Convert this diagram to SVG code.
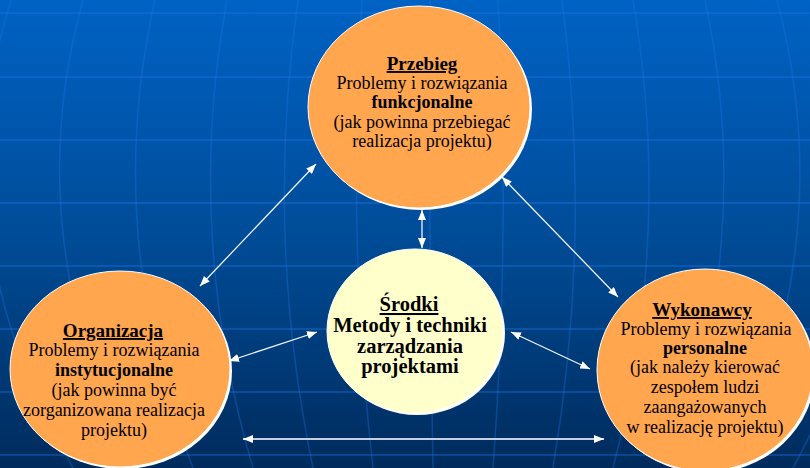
<svg xmlns="http://www.w3.org/2000/svg" width="810" height="468" viewBox="0 0 810 468">
  <defs>
    <linearGradient id="bg" x1="0" y1="0" x2="0" y2="1">
      <stop offset="0" stop-color="#0062c4"/>
      <stop offset="0.5" stop-color="#004c98"/>
      <stop offset="1" stop-color="#002b5c"/>
    </linearGradient>
    <marker id="ah" viewBox="0 0 10 8" refX="10" refY="4" markerWidth="10" markerHeight="8" markerUnits="userSpaceOnUse" orient="auto-start-reverse">
      <path d="M0,0 L10,4 L0,8 z" fill="#ffffff"/>
    </marker>
    <style>
      .hline { stroke: #1f7af0; stroke-opacity: 0.45; stroke-width: 1.6; fill: none; }
      .vline { stroke: #1f7af0; stroke-opacity: 0.3; stroke-width: 1.6; fill: none; }
      .rim { fill: #ffffff; }
      .orange { fill: #ffa64f; stroke: #ffffff; stroke-width: 1; }
      .cream { fill: #ffffcc; stroke: #ffffff; stroke-width: 1; }
      .t { font-family: "Liberation Serif", "Times New Roman", serif; fill: #000000; text-anchor: middle; }
      .body { font-size: 18px; }
      .bold { font-weight: bold; }
      .title { font-size: 19px; font-weight: bold; text-decoration: underline; }
      .mid { font-size: 20.5px; font-weight: bold; }
      .arrow { stroke: #eef2fa; stroke-width: 1.3; fill: none; marker-start: url(#ah); marker-end: url(#ah); }
      .arrow-wide { stroke: #c4d0e2; stroke-width: 2; fill: none; marker-start: url(#ah); marker-end: url(#ah); }
    </style>
  </defs>

  <!-- background with curved grid -->
  <rect x="0" y="0" width="810" height="468" fill="url(#bg)"/>
  <g id="grid">
    <path class="hline" d="M0 13 H810 M0 77 H810 M0 140 H810 M0 203 H810 M0 266 H810 M0 329 H810 M0 392 H810 M0 455 H810"/>
    <path class="vline" d="M430 0 Q428.5 234 433 468"/>
    <path class="vline" d="M362 0 Q346.5 234 373 468"/>
    <path class="vline" d="M498 0 Q510.5 234 493 468"/>
    <path class="vline" d="M298 0 Q264.5 234 313 468"/>
    <path class="vline" d="M562 0 Q592.5 234 553 468"/>
    <path class="vline" d="M227 0 Q184 234 253 468"/>
    <path class="vline" d="M633 0 Q673 234 613 468"/>
    <path class="vline" d="M155 0 Q102 234 193 468"/>
    <path class="vline" d="M705 0 Q755 234 673 468"/>
    <path class="vline" d="M83 0 Q18 234 133 468"/>
    <path class="vline" d="M777 0 Q839 234 733 468"/>
    <path class="vline" d="M11 0 Q-62 234 73 468"/>
    <path class="vline" d="M849 0 Q919 234 793 468"/>
  </g>

  <!-- connectors -->
  <g id="connectors">
    <line class="arrow" x1="316" y1="164" x2="200" y2="286"/>
    <line class="arrow" x1="502" y1="177" x2="618" y2="297"/>
    <line class="arrow" x1="422" y1="210" x2="422" y2="248"/>
    <line class="arrow" x1="229" y1="361" x2="317" y2="332"/>
    <line class="arrow" x1="511" y1="332" x2="590" y2="369"/>
    <line class="arrow-wide" x1="243" y1="439" x2="604" y2="439"/>
  </g>

  <!-- Przebieg -->
  <g id="przebieg">
    <ellipse class="rim" cx="421" cy="109" rx="111" ry="101"/>
    <ellipse class="orange" cx="419" cy="107" rx="111" ry="101"/>
    <text class="t title" x="422" y="70">Przebieg</text>
    <text class="t body" x="422" y="89">Problemy i rozwiązania</text>
    <text class="t body bold" x="422" y="108">funkcjonalne</text>
    <text class="t body" x="422" y="128">(jak powinna przebiegać</text>
    <text class="t body" x="422" y="147">realizacja projektu)</text>
  </g>

  <!-- Organizacja -->
  <g id="organizacja">
    <ellipse class="rim" cx="122" cy="371" rx="110" ry="98"/>
    <ellipse class="orange" cx="120" cy="369" rx="110" ry="98"/>
    <text class="t title" x="113" y="337">Organizacja</text>
    <text class="t body" x="114" y="356">Problemy i rozwiązania</text>
    <text class="t body bold" x="114" y="376">instytucjonalne</text>
    <text class="t body" x="114" y="396">(jak powinna być</text>
    <text class="t body" x="114" y="416">zorganizowana realizacja</text>
    <text class="t body" x="114" y="436">projektu)</text>
  </g>

  <!-- Środki -->
  <g id="srodki">
    <ellipse class="rim" cx="417" cy="333" rx="88" ry="82"/>
    <ellipse class="cream" cx="415" cy="331" rx="88" ry="82"/>
    <text class="t mid" x="409" y="311" text-decoration="underline">Środki</text>
    <text class="t mid" x="410" y="332">Metody i techniki</text>
    <text class="t mid" x="410" y="353">zarządzania</text>
    <text class="t mid" x="410" y="373">projektami</text>
  </g>

  <!-- Wykonawcy -->
  <g id="wykonawcy">
    <ellipse class="rim" cx="707" cy="372" rx="108" ry="101"/>
    <ellipse class="orange" cx="705" cy="370" rx="108" ry="101"/>
    <text class="t title" x="702" y="316">Wykonawcy</text>
    <text class="t body" x="706" y="335">Problemy i rozwiązania</text>
    <text class="t body bold" x="705" y="354">personalne</text>
    <text class="t body" x="705" y="373">(jak należy kierować</text>
    <text class="t body" x="705" y="393">zespołem ludzi</text>
    <text class="t body" x="705" y="413">zaangażowanych</text>
    <text class="t body" x="705" y="433">w realizację projektu)</text>
  </g>
</svg>
